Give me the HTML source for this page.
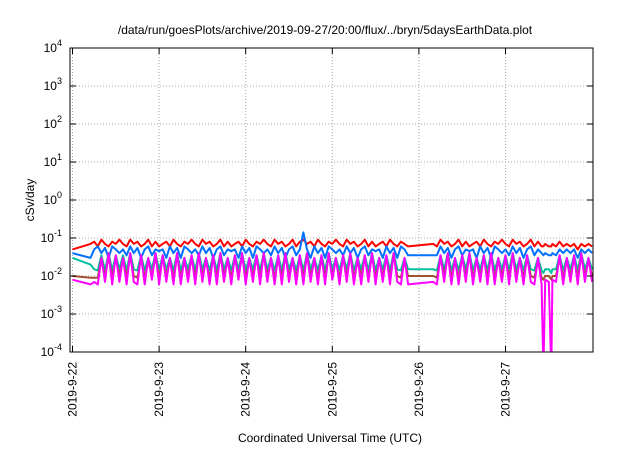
<!DOCTYPE html>
<html><head><meta charset="utf-8"><style>
body{margin:0;background:#fff}
svg{font-family:"Liberation Sans",sans-serif}
</style></head><body>
<svg id="c" width="640" height="448">
<text x="325" y="34" font-size="12" text-anchor="middle">/data/run/goesPlots/archive/2019-09-27/20:00/flux/../bryn/5daysEarthData.plot</text>
<text x="330" y="442" font-size="12" text-anchor="middle">Coordinated Universal Time (UTC)</text>
<text transform="translate(34,200) rotate(-90)" font-size="12" text-anchor="middle">cSv/day</text>
<g id="grid"></g><g id="series"></g><g id="axes"></g>
</svg>
<script>
const dayLabels=["2019-9-22","2019-9-23","2019-9-24","2019-9-25","2019-9-26","2019-9-27"];
const yExps=[-4,-3,-2,-1,0,1,2,3,4];
const times=[0,5,6,7,8,9,10,11,12,13,
14,15,16,17,18,19,20,21,22,23,
24,25,26,27,28,29,30,31,32,33,
34,35,36,37,38,39,40,41,42,43,
44,45,46,47,48,49,50,51,52,53,
54,55,56,57,58,59,60,61,62,63,
64,65,66,67,68,69,70,71,72,73,
74,75,76,77,78,79,80,81,82,83,
84,85,86,87,88,89,90,91,92,93,
100,101,102,103,104,105,106,107,108,109,
110,111,112,113,114,115,116,117,118,119,
120,121,122,123,124,125,126,127,128,129,
130,130.5,131,132,132.7,133,134,135,136,137,
138,139,140,141,142,143,144];
const red=[0.05,0.07,0.08,0.06,0.09,0.07,0.06,0.08,0.07,0.09,
0.07,0.06,0.09,0.07,0.08,0.06,0.07,0.09,0.06,0.08,
0.06,0.07,0.08,0.06,0.09,0.07,0.06,0.08,0.07,0.09,
0.07,0.06,0.09,0.07,0.08,0.06,0.07,0.09,0.06,0.08,
0.06,0.07,0.08,0.06,0.09,0.07,0.06,0.08,0.07,0.09,
0.07,0.06,0.09,0.07,0.08,0.06,0.07,0.09,0.06,0.08,
0.09,0.07,0.08,0.06,0.09,0.07,0.06,0.08,0.07,0.09,
0.07,0.06,0.09,0.07,0.08,0.06,0.07,0.09,0.06,0.08,
0.06,0.07,0.08,0.06,0.09,0.07,0.06,0.08,0.07,0.06,
0.07,0.06,0.09,0.07,0.08,0.06,0.07,0.09,0.06,0.08,
0.06,0.07,0.08,0.06,0.09,0.07,0.06,0.08,0.07,0.09,
0.07,0.06,0.09,0.07,0.08,0.06,0.07,0.09,0.06,0.08,
0.06,0.06,0.07,0.06,0.06,0.07,0.06,0.08,0.06,0.07,
0.06,0.07,0.05,0.07,0.06,0.07,0.06];
const blue=[0.04,0.03,0.05,0.06,0.04,0.055,0.03,0.06,0.05,0.04,
0.05,0.035,0.06,0.04,0.055,0.03,0.05,0.06,0.035,0.05,
0.045,0.05,0.03,0.06,0.04,0.055,0.03,0.06,0.05,0.04,
0.05,0.035,0.06,0.04,0.055,0.03,0.05,0.06,0.035,0.05,
0.045,0.05,0.03,0.06,0.04,0.055,0.03,0.06,0.05,0.04,
0.05,0.035,0.06,0.04,0.055,0.03,0.05,0.06,0.035,0.05,
0.14,0.05,0.03,0.06,0.04,0.055,0.03,0.06,0.05,0.04,
0.05,0.035,0.06,0.04,0.055,0.03,0.05,0.06,0.035,0.05,
0.045,0.05,0.03,0.06,0.04,0.055,0.03,0.06,0.05,0.035,
0.035,0.035,0.06,0.04,0.055,0.03,0.05,0.06,0.035,0.05,
0.045,0.05,0.03,0.06,0.04,0.055,0.03,0.06,0.05,0.04,
0.05,0.035,0.06,0.04,0.055,0.03,0.05,0.06,0.035,0.05,
0.04,0.035,0.04,0.035,0.035,0.04,0.035,0.05,0.04,0.05,
0.04,0.05,0.03,0.05,0.04,0.05,0.04];
const teal=[0.03,0.02,0.015,0.014,0.035,0.014,0.04,0.014,0.035,0.015,
0.035,0.014,0.04,0.015,0.014,0.035,0.014,0.03,0.015,0.04,
0.014,0.035,0.015,0.03,0.014,0.04,0.014,0.03,0.015,0.035,
0.014,0.04,0.015,0.03,0.014,0.035,0.014,0.04,0.015,0.03,
0.014,0.035,0.015,0.04,0.014,0.03,0.015,0.035,0.014,0.04,
0.015,0.03,0.014,0.035,0.014,0.04,0.015,0.03,0.014,0.035,
0.014,0.04,0.015,0.03,0.014,0.035,0.014,0.04,0.015,0.03,
0.014,0.035,0.015,0.04,0.014,0.03,0.015,0.035,0.014,0.04,
0.014,0.03,0.015,0.035,0.014,0.04,0.015,0.014,0.03,0.015,
0.015,0.014,0.035,0.015,0.04,0.014,0.03,0.014,0.035,0.015,
0.04,0.014,0.03,0.015,0.035,0.014,0.04,0.014,0.03,0.015,
0.035,0.014,0.04,0.015,0.03,0.014,0.035,0.015,0.014,0.03,
0.014,0.012,0.015,0.015,0.012,0.015,0.015,0.035,0.014,0.03,
0.015,0.035,0.014,0.04,0.015,0.03,0.015];
const brown=[0.01,0.009,0.009,0.009,0.03,0.009,0.035,0.009,0.03,0.01,
0.03,0.009,0.035,0.01,0.009,0.03,0.009,0.025,0.01,0.035,
0.009,0.03,0.01,0.025,0.009,0.035,0.009,0.025,0.01,0.03,
0.009,0.035,0.01,0.025,0.009,0.03,0.009,0.035,0.01,0.025,
0.009,0.03,0.01,0.035,0.009,0.025,0.01,0.03,0.009,0.035,
0.01,0.025,0.009,0.03,0.009,0.035,0.01,0.025,0.009,0.03,
0.009,0.035,0.01,0.025,0.009,0.03,0.009,0.035,0.01,0.025,
0.009,0.03,0.01,0.035,0.009,0.025,0.01,0.03,0.009,0.035,
0.009,0.025,0.01,0.03,0.009,0.035,0.01,0.009,0.025,0.01,
0.01,0.009,0.03,0.01,0.035,0.009,0.025,0.009,0.03,0.01,
0.035,0.009,0.025,0.01,0.03,0.009,0.035,0.009,0.025,0.01,
0.03,0.009,0.035,0.01,0.025,0.009,0.03,0.01,0.009,0.025,
0.009,0.008,0.01,0.01,0.008,0.01,0.01,0.03,0.009,0.025,
0.01,0.03,0.009,0.035,0.01,0.025,0.01];
const magenta=[0.008,0.006,0.007,0.006,0.03,0.007,0.04,0.006,0.035,0.007,
0.03,0.006,0.04,0.007,0.006,0.035,0.006,0.03,0.008,0.04,
0.006,0.035,0.007,0.03,0.006,0.04,0.006,0.03,0.007,0.035,
0.006,0.04,0.007,0.03,0.006,0.035,0.006,0.04,0.007,0.03,
0.006,0.035,0.008,0.04,0.006,0.03,0.007,0.035,0.006,0.04,
0.007,0.03,0.006,0.035,0.006,0.04,0.007,0.03,0.006,0.035,
0.006,0.04,0.007,0.03,0.006,0.035,0.006,0.04,0.008,0.03,
0.006,0.035,0.007,0.04,0.006,0.03,0.006,0.035,0.007,0.04,
0.006,0.03,0.007,0.035,0.006,0.04,0.007,0.006,0.03,0.006,
0.007,0.006,0.035,0.007,0.04,0.006,0.03,0.006,0.035,0.007,
0.04,0.006,0.03,0.007,0.035,0.006,0.04,0.006,0.03,0.007,
0.035,0.006,0.04,0.007,0.03,0.006,0.035,0.007,0.006,0.03,
0.006,0.00003,0.008,0.007,0.00003,0.008,0.007,0.035,0.006,0.03,
0.007,0.035,0.006,0.04,0.007,0.03,0.007];
const X0=70,X1=593,Y0=352,Y1=48;
const dayPx=86.6, day0x=72.5;
function xs(h){return day0x+h/24*dayPx;}
function ys(v){let e=Math.log10(v);return Y0-(e+4)/8*(Y0-Y1);}
const NS="http://www.w3.org/2000/svg";
function mk(t,p,a){const e=document.createElementNS(NS,t);for(const k in a)e.setAttribute(k,a[k]);p.appendChild(e);return e;}
const grid=document.getElementById('grid'),axes=document.getElementById('axes'),ser=document.getElementById('series');
dayLabels.forEach((lab,i)=>{
 const x=xs(i*24);
 const g=mk('line',grid,{x1:x,x2:x,y1:Y1,y2:Y0,stroke:'#aaa','stroke-dasharray':'1,2'});
 
 
 mk('line',axes,{x1:x,x2:x,y1:Y0,y2:Y0-6,stroke:'#000'});
 mk('line',axes,{x1:x,x2:x,y1:Y1,y2:Y1+6,stroke:'#000'});
 const t=mk('text',axes,{transform:`translate(${x+4},362) rotate(-90)`,'font-size':'12','text-anchor':'end'});
 t.textContent=lab;
 
 
});
yExps.forEach(e=>{
 const y=ys(Math.pow(10,e));
 if(e>-4&&e<4){const g=mk('line',grid,{x1:X0,x2:X1,y1:y,y2:y,stroke:'#aaa','stroke-dasharray':'1,2'});
 
 }
 mk('line',axes,{x1:X0,x2:X0+6,y1:y,y2:y,stroke:'#000'});
 mk('line',axes,{x1:X1,x2:X1-6,y1:y,y2:y,stroke:'#000'});
 const t=mk('text',axes,{x:X0-8,y:y+4,'font-size':'12','text-anchor':'end'});
 t.innerHTML='10<tspan dy="-6" font-size="9">'+e+'</tspan>';
 
 
});
const frame=mk('rect',axes,{x:X0,y:Y1,width:X1-X0,height:Y0-Y1,fill:'none',stroke:'#000'});


const list=[[red,'#ff0000','red'],[teal,'#00c0a0','teal'],[brown,'#a05030','brown'],[blue,'#0070ff','blue'],[magenta,'#ff00ff','magenta']];
const cp=mk('clipPath',ser,{id:'clip'});mk('rect',cp,{x:X0,y:Y1,width:X1-X0,height:Y0-Y1});
list.forEach(([vals,col,nm])=>{
 let d='';vals.forEach((v,i)=>{d+=(i?'L':'M')+xs(times[i]).toFixed(1)+','+ys(v).toFixed(1);});
 const p=mk('path',ser,{d:d,fill:'none',stroke:col,'stroke-width':'2','stroke-linejoin':'round','clip-path':'url(#clip)'});
 
 
});
</script>
</body></html>
